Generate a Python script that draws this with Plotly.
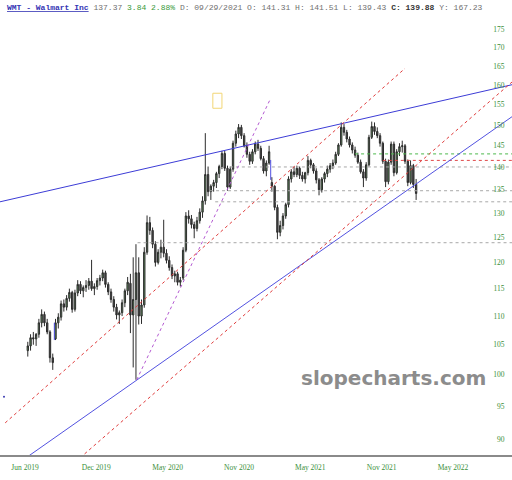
import math
import pandas as pd
import plotly.graph_objects as go

# weekly bars (week starting Monday)
opens = [104.0, 104.8, 106.2, 106.0, 106.8, 108.8, 110.3, 108.8, 107.2, 102.8,
         106.0, 108.8, 109.8, 112.2, 111.6, 113.2, 114.3, 111.2, 114.2, 115.8,
         114.6, 115.2, 115.6, 116.4, 115.0, 115.4, 116.5, 117.0, 118.0, 115.8,
         114.4, 113.0, 111.6, 110.2, 110.6, 112.4, 114.6, 116.0, 110.2, 113.0,
         118.0, 110.0, 112.0, 122.0, 128.0, 126.4, 123.6, 120.0, 122.0, 123.0,
         121.8, 120.4, 119.0, 117.4, 117.8, 116.2, 117.0, 122.4, 129.4, 128.8,
         127.6, 126.8, 128.4, 130.2, 132.6, 138.4, 134.6, 135.8, 136.6, 138.6,
         140.2, 143.2, 139.8, 135.6, 139.6, 145.6, 147.8, 149.4, 147.4, 145.0,
         143.0, 141.4, 143.6, 145.4, 144.4, 142.0, 139.2, 141.0, 136.6, 135.8,
         131.2, 126.0, 127.4, 129.4, 131.8, 137.4, 139.0, 138.4, 139.8, 138.2,
         137.4, 138.8, 141.6, 140.6, 139.2, 137.2, 135.0, 137.4, 138.6, 139.6,
         140.4, 141.0, 143.0, 145.2, 149.4, 148.2, 146.6, 145.2, 144.0, 142.8,
         141.2, 139.0, 137.6, 140.6, 147.0, 149.6, 148.4, 147.4, 145.6, 141.4,
         136.8, 141.2, 145.4, 138.8, 143.6, 144.8, 145.0, 141.4, 136.6, 140.4,
         136.2]
highs = [105.5, 106.8, 107.2, 107.0, 109.5, 111.2, 110.8, 109.5, 107.5, 103.5,
         109.5, 110.5, 112.8, 113.0, 113.8, 115.0, 114.6, 114.8, 116.6, 116.4,
         115.6, 116.6, 117.0, 120.5, 116.0, 117.0, 117.6, 118.6, 118.4, 116.2,
         115.0, 113.6, 112.2, 111.0, 113.0, 115.0, 117.2, 117.8, 121.0, 123.6,
         121.0, 113.0, 123.0, 129.5, 129.2, 127.0, 124.2, 122.6, 124.5, 128.6,
         122.6, 121.2, 119.6, 118.4, 118.2, 117.2, 123.0, 130.2, 130.6, 129.6,
         128.2, 129.2, 131.0, 133.6, 148.0, 140.2, 136.2, 137.2, 139.0, 140.6,
         143.8, 143.8, 140.4, 140.2, 146.2, 148.6, 150.2, 150.0, 148.0, 145.8,
         143.6, 144.2, 146.0, 146.4, 145.0, 142.6, 141.6, 145.0, 137.8, 136.0,
         131.8, 128.4, 130.0, 132.2, 138.0, 139.6, 140.2, 140.4, 140.2, 139.0,
         139.0, 142.6, 142.0, 141.0, 139.8, 137.6, 137.8, 139.0, 140.4, 141.0,
         141.8, 143.6, 145.6, 150.6, 150.2, 148.8, 147.2, 145.8, 144.8, 143.4,
         141.8, 139.6, 141.2, 147.6, 150.8, 150.6, 149.4, 148.0, 146.0, 142.0,
         141.8, 146.0, 146.0, 144.2, 145.6, 146.2, 145.4, 141.8, 141.6, 140.8,
         137.4]
lows = [103.0, 104.0, 105.0, 104.8, 106.2, 108.0, 108.2, 106.8, 102.0, 100.8,
        105.8, 107.8, 109.2, 110.8, 111.0, 112.6, 110.6, 110.8, 113.6, 114.0,
        113.4, 114.4, 114.8, 114.6, 113.8, 114.8, 115.6, 116.4, 115.2, 113.8,
        112.4, 110.8, 109.4, 108.6, 110.0, 111.6, 113.8, 107.0, 101.2, 99.2,
        108.5, 108.6, 111.5, 121.5, 125.5, 122.8, 119.2, 119.6, 120.8, 121.0,
        119.8, 118.4, 116.8, 116.2, 115.6, 115.4, 116.6, 122.0, 127.8, 126.8,
        124.8, 126.2, 127.8, 129.0, 131.8, 133.6, 132.8, 134.6, 135.4, 137.6,
        139.6, 139.2, 134.8, 135.2, 139.0, 144.8, 146.8, 146.6, 144.6, 142.2,
        140.6, 140.8, 143.0, 143.8, 141.6, 138.6, 138.0, 140.6, 134.6, 130.6,
        124.6, 125.2, 126.6, 128.8, 131.2, 136.6, 137.8, 137.8, 137.4, 136.8,
        136.4, 138.2, 139.8, 138.6, 136.4, 133.8, 134.4, 136.6, 137.8, 138.8,
        139.6, 140.6, 142.6, 144.8, 147.4, 145.8, 144.6, 143.2, 142.2, 140.8,
        138.6, 135.6, 137.0, 140.2, 146.6, 147.6, 146.8, 144.8, 140.8, 135.6,
        136.2, 140.6, 138.0, 138.4, 142.6, 143.4, 140.8, 135.8, 136.2, 135.4,
        132.8]
closes = [104.8, 106.2, 106.0, 106.8, 108.8, 110.3, 108.8, 107.2, 102.8, 102.0,
          108.8, 109.8, 112.2, 111.6, 113.2, 114.3, 111.2, 114.2, 115.8, 114.6,
          115.2, 115.6, 116.4, 115.0, 115.4, 116.5, 117.0, 118.0, 115.8, 114.4,
          113.0, 111.6, 110.2, 110.6, 112.4, 114.6, 116.2, 110.2, 113.0, 118.0,
          110.0, 112.0, 122.0, 128.0, 126.4, 123.6, 120.0, 122.0, 123.0, 121.8,
          120.4, 119.0, 117.4, 117.8, 116.2, 116.6, 122.4, 129.4, 128.8, 127.6,
          126.8, 128.4, 130.2, 132.6, 138.4, 134.6, 135.8, 136.6, 138.6, 140.2,
          143.2, 139.8, 135.6, 139.6, 145.6, 147.8, 149.4, 147.4, 145.0, 143.0,
          141.4, 143.6, 145.4, 144.4, 142.0, 139.2, 141.0, 143.6, 135.8, 131.2,
          126.0, 127.4, 129.4, 131.8, 137.4, 139.0, 138.4, 139.8, 138.2, 137.4,
          138.8, 141.6, 140.6, 139.2, 137.2, 135.0, 137.4, 138.6, 139.6, 140.4,
          141.0, 143.0, 145.2, 149.4, 148.2, 146.6, 145.2, 144.0, 142.8, 141.2,
          139.0, 137.6, 140.6, 147.0, 149.6, 148.4, 147.4, 145.6, 141.4, 136.8,
          141.2, 145.4, 138.8, 143.6, 144.8, 145.0, 141.4, 136.6, 140.4, 136.2,
          134.2]
weeks = pd.date_range("2019-06-10", periods=len(closes), freq="7D")

tick_dates = ["2019-06-03", "2019-11-30", "2020-05-28", "2020-11-24",
              "2021-05-23", "2021-11-19", "2022-05-18"]
tick_text = ["Jun 2019", "Dec 2019", "May 2020", "Nov 2020",
             "May 2021", "Nov 2021", "May 2022"]
price_ticks = list(range(90, 180, 5))
x_start, x_end = "2019-03-31 21:00", "2022-10-14"

# drawn trend lines (two points each)
upper_blue_x, upper_blue_y = ["2019-03-31 21:00", "2022-10-14"], [132.4, 160.1]
lower_blue_x, lower_blue_y = ["2019-06-03", "2022-10-14"], [87.3, 152.0]
red_up_x, red_up_y = ["2019-04-14", "2022-01-17"], [92.5, 164.4]
red_low_x, red_low_y = ["2019-10-20", "2022-10-14"], [87.4, 160.8]
fan_x, fan_y = ["2020-03-11", "2021-02-10"], [99.2, 156.2]

# horizontal levels: price, start date
level_prices = [140.1, 134.8, 132.4, 123.9, 143.1, 141.6]
level_starts = ["2020-11-01", "2020-09-12", "2020-09-25", "2020-03-13",
                "2021-09-13", "2021-11-22"]
level_colors = ["#a8a8a8", "#a8a8a8", "#a8a8a8", "#a8a8a8", "#4cb84c", "#e04848"]

# gap markers
gap_dates = ["2019-08-16", "2021-02-12"]
gap_from = [105.8, 141.7]
gap_to = [108.8, 137.2]

box_x = ["2020-09-19", "2020-10-12"]
box_y = [154.1, 157.9]
dot_x, dot_y = ["2019-04-11"], [96.5]

fig = go.Figure()
fig.add_trace(go.Candlestick(
    x=weeks, open=opens, high=highs, low=lows, close=closes,
    increasing=dict(line=dict(color="#2c2c2c", width=1), fillcolor="#62925f"),
    decreasing=dict(line=dict(color="#2c2c2c", width=1), fillcolor="#4a4a4a"),
    hoverinfo="skip"))

for price, start, col in zip(level_prices, level_starts, level_colors):
    fig.add_trace(go.Scatter(x=[start, x_end], y=[price, price], mode="lines",
                             line=dict(color=col, width=1, dash="dot")))

fig.add_trace(go.Scatter(x=upper_blue_x, y=upper_blue_y, mode="lines",
                         line=dict(color="#3c3cd6", width=1)))
fig.add_trace(go.Scatter(x=lower_blue_x, y=lower_blue_y, mode="lines",
                         line=dict(color="#5252e0", width=1)))
fig.add_trace(go.Scatter(x=red_up_x, y=red_up_y, mode="lines",
                         line=dict(color="#e03a3a", width=1, dash="dot")))
fig.add_trace(go.Scatter(x=red_low_x, y=red_low_y, mode="lines",
                         line=dict(color="#e03a3a", width=1, dash="dot")))
fig.add_trace(go.Scatter(x=fan_x, y=fan_y, mode="lines",
                         line=dict(color="#b45ad2", width=1, dash="dot")))

for d, a, b in zip(gap_dates, gap_from, gap_to):
    fig.add_trace(go.Scatter(x=[d, d], y=[a, b], mode="lines",
                             line=dict(color="#5050e0", width=1)))

fig.add_trace(go.Scatter(
    x=[box_x[0], box_x[1], box_x[1], box_x[0], box_x[0]],
    y=[box_y[0], box_y[0], box_y[1], box_y[1], box_y[0]],
    mode="lines", line=dict(color="#f2d675", width=1)))
fig.add_trace(go.Scatter(x=dot_x, y=dot_y, mode="markers",
                         marker=dict(color="#3a3ab0", size=2)))

tick_font = dict(family="Liberation Serif", size=7.5, color="#3a8f3a")
fig.update_layout(
    width=512, height=480,
    margin=dict(l=0, r=0, t=18, b=25),
    paper_bgcolor="white", plot_bgcolor="white",
    showlegend=False,
    xaxis=dict(type="date", range=[x_start, x_end],
               tickvals=tick_dates, ticktext=tick_text,
               showgrid=False, zeroline=False,
               showline=True, linecolor="#8a8a8a", linewidth=1.5,
               ticks="", tickfont=tick_font, ticklabelstandoff=4,
               rangeslider=dict(visible=False)),
    yaxis=dict(type="log", range=[math.log10(87.8), math.log10(178.4)],
               side="right", ticklabelposition="inside",
               tickvals=price_ticks, ticktext=[str(v) for v in price_ticks],
               showgrid=False, zeroline=False, showline=False,
               ticks="inside", ticklen=6, tickcolor="rgba(0,0,0,0)",
               tickfont=tick_font),
)

header = ("<span style='color:#3434b4'><b><u>WMT - Walmart Inc</u></b></span> "
          "<span style='color:#707070'>137.37</span> "
          "<span style='color:#3a9a3a'>3.84 2.88%</span> "
          "<span style='color:#707070'>D: 09/29/2021 O: 141.31 H: 141.51 L: 139.43</span> "
          "<b>C: 139.88</b> <span style='color:#707070'>Y: 167.23</span>")
fig.add_annotation(text=header, xref="paper", yref="paper", x=5 / 512, y=1.023,
                   xanchor="left", yanchor="middle", showarrow=False,
                   font=dict(family="Liberation Mono", size=8, color="#333333"))
fig.add_annotation(text="<b>slopecharts.com</b>", xref="paper", yref="paper",
                   x=0.768, y=0.176, xanchor="center", yanchor="middle",
                   showarrow=False,
                   font=dict(family="DejaVu Sans", size=20, color="#8c8c8c"))

fig.write_html("out.html", config={"displayModeBar": False},
               post_script="document.body.style.margin='0';")
